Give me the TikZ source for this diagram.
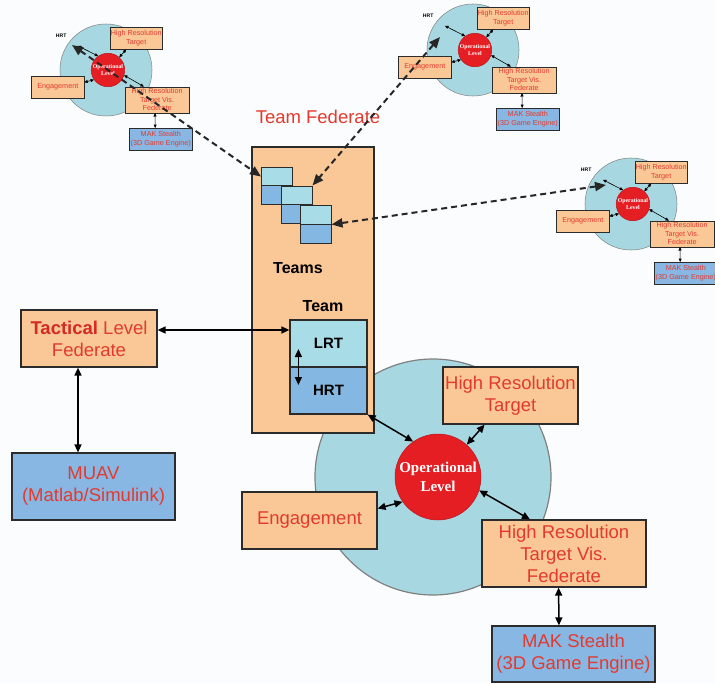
\documentclass[tikz,border=0pt]{standalone}
\usepackage{fontspec}
\setmainfont{Liberation Sans}
\newfontfamily\opserif{Liberation Serif}
\usetikzlibrary{arrows.meta}
\definecolor{orfill}{HTML}{FAC896}
\definecolor{cirfill}{HTML}{A7D8E2}
\definecolor{redc}{HTML}{E51E24}
\definecolor{txtred}{HTML}{E23A2E}
\definecolor{tacred}{HTML}{D42A25}
\definecolor{bluebox}{HTML}{88B7E4}
\definecolor{lightsq}{HTML}{A8DCE6}
\definecolor{darksq}{HTML}{84B8E2}
\definecolor{edge}{HTML}{2B2B2B}
\definecolor{bg}{HTML}{FBFCFD}
\def\blw{1.2pt}\def\alw{1.5pt}\def\tl{8pt}\def\tw{7pt}
\newcommand\opbody{%
  \node[bgcirc] (-circ) at (0,0) {};
  \node[redcirc] (-red) at (5,0) {Operational\\Level};
  \node[obox, minimum width=135, minimum height=57] (-hrtg) at (77.5,-81.5) {High Resolution\\Target};
  \node[obox, minimum width=135, minimum height=57] (-eng) at (-123.5,43.5) {Engagement};
  \node[obox, minimum width=164, minimum height=67] (-vis) at (131,76.5) {High Resolution\\Target Vis.\\Federate};
  \node[bbox, minimum width=163, minimum height=56] (-mak) at (140.5,177) {MAK Stealth\\(3D Game Engine)};
  \draw[oparr] (-red) -- (-hrtg);
  \draw[oparr] (-eng.10) -- (-red.215);
  \draw[oparr] (-red.342) -- (-vis.135);
  \draw[oparr] (-vis.261) -- (-mak.117);
}
\tikzset{
  x=1pt, y=-1pt,
  obox/.style={draw=edge, line width=\blw, fill=orfill, text=txtred, align=center, inner sep=0pt,
    font=\fontsize{18.5}{22}\selectfont},
  bbox/.style={obox, fill=bluebox},
  bgcirc/.style={circle, draw=edge!60, line width=\blw, fill=cirfill, minimum size=236, inner sep=0pt},
  redcirc/.style={circle, draw=redc!80!black, line width=0.5pt, fill=redc, minimum size=86, inner sep=0pt,
    text=white, align=center, font=\opserif\bfseries\fontsize{15}{19}\selectfont},
  oparr/.style={draw=black, line width=\alw, {Triangle[length=\tl,width=\tw]}-{Triangle[length=\tl,width=\tw]}},
  dasharr/.style={draw=black!85, line width=2pt, dash pattern=on 6pt off 4pt,
    {Triangle[length=11pt,width=9pt]}-{Triangle[length=11pt,width=9pt]}},
  hrtlbl/.style={text=black, font=\bfseries\fontsize{13}{15}\selectfont, inner sep=0pt},
  sqbox/.style={draw=edge, line width=1pt, inner sep=0pt, minimum width=31, minimum height=19},
  teambox/.style={draw=edge, line width=1.2pt, inner sep=0pt, minimum width=77, minimum height=47,
    text=black, font=\bfseries\fontsize{15}{18}\selectfont},
  blk/.style={text=black, font=\bfseries\fontsize{16}{19}\selectfont, inner sep=0pt},
  pics/opcore/.style={code={\opbody}},
  pics/opmini/.style={code={\opbody
    \node[hrtlbl] (-hrtl) at (-115,-88) {HRT};
    \coordinate (-hrtpt) at (-72,-62);
    \draw[oparr] (-hrtpt) -- (-red.125);}},
}
\begin{document}
\begin{tikzpicture}
\useasboundingbox (0,0) rectangle (715,683);
\fill[bg] (0,0) rectangle (715,683);

% big operational level (behind the team federate box)
\pic (big) at (433,477) {opcore};

% team federate box
\node[obox, minimum width=122, minimum height=286] (teams) at (313,290) {};
\node[text=txtred, font=\fontsize{18.5}{22}\selectfont, inner sep=0pt] (tf) at (318,117) {Team Federate};
\node[sqbox, fill=lightsq] (sq1a) at (277,176.5) {};
\node[sqbox, fill=darksq] (sq1b) at (277,195) {};
\node[sqbox, fill=lightsq] (sq2a) at (296.5,195.5) {};
\node[sqbox, fill=darksq] (sq2b) at (296.5,214) {};
\node[sqbox, fill=lightsq] (sq3a) at (315.5,214.5) {};
\node[sqbox, fill=darksq] (sq3b) at (315.5,233.5) {};
\node[blk] (teamslbl) at (298,268) {Teams};
\node[blk] (teamlbl) at (323,306) {Team};
\node[teambox, fill=lightsq] (lrt) at (328.5,343.5) {LRT};
\node[teambox, fill=darksq] (hrt) at (328.5,390.5) {HRT};
\draw[oparr] ([xshift=9pt,yshift=-5.5pt]lrt.west) -- ([xshift=9pt,yshift=5.5pt]hrt.west);
\draw[oparr] (hrt.south east) -- (big-red.125);

% tactical
\node[obox, minimum width=136, minimum height=57] (tac) at (89,338.5) {{\color{tacred}\bfseries Tactical} Level\\Federate};
\node[bbox, minimum width=163, minimum height=67] (muav) at (93.5,486.5) {MUAV\\(Matlab/Simulink)};
\draw[oparr] ([yshift=8.5pt]tac.east) -- ([yshift=8.5pt]tac.east -| lrt.west);
\draw[oparr] ([xshift=-11pt]tac.south) -- ([xshift=-11pt]tac.south |- muav.north);

% minis
\def\blw{0.5pt}\def\alw{0.6pt}\def\tl{3.5pt}\def\tw{3pt}
\pic[scale=0.39, transform shape] (tlm) at (106,70) {opmini};
\pic[scale=0.39, transform shape] (trm) at (473,50) {opmini};
\pic[scale=0.39, transform shape] (rtm) at (631,204) {opmini};

% dashed links
\coordinate (d1) at (72,45);
\coordinate (d2) at (440,37);
\coordinate (d3) at (606,185);
\draw[dasharr] (d1) -- (sq1a.west);
\draw[dasharr] (d2) -- (sq2a.north east);
\draw[dasharr] (d3) -- (sq3a.south east);
\end{tikzpicture}
\end{document}
